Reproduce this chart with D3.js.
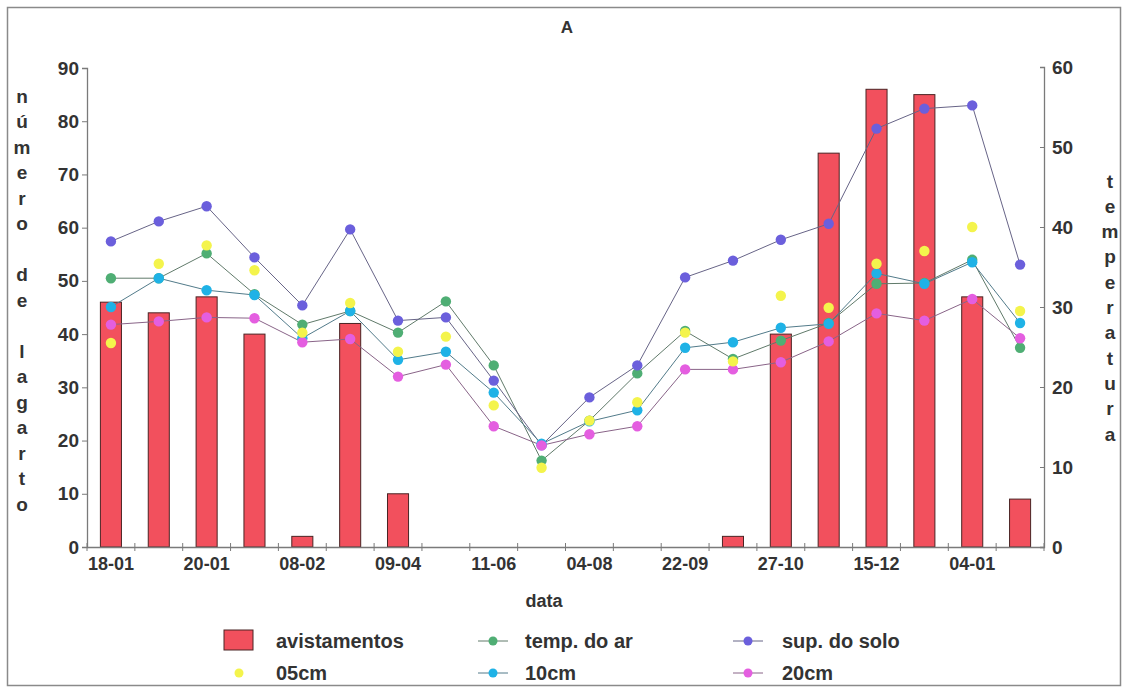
<!DOCTYPE html>
<html>
<head>
<meta charset="utf-8">
<script src="https://cdn.jsdelivr.net/npm/d3@7"></script>
<style>
  body { margin: 0; background: #fff; }
  svg text { font-family: "Liberation Sans", Arial, sans-serif; font-weight: bold; fill: #333; }
</style>
</head>
<body>
<svg id="chart" width="1124" height="689"></svg>
<script>
// x categories (only every other one carries a label)
const tickLabels = ['18-01', '', '20-01', '', '08-02', '', '09-04', '', '11-06', '',
                    '04-08', '', '22-09', '', '27-10', '', '15-12', '', '04-01', ''];

// lizard sightings (left axis)
const avistamentos = [46, 44, 47, 40, 2, 42, 10, 0, 0, 0, 0, 0, 0, 2, 40, 74, 86, 85, 47, 9];

// temperatures (right axis)
const tempAr   = [33.6, 33.6, 36.7, 31.6, 27.8, 29.5, 26.8, 30.7, 22.7, 10.8, 15.8, 21.7, 27.0, 23.5, 25.8, 28.0, 32.9, 33.0, 35.9, 24.9];
const supSolo  = [38.2, 40.7, 42.6, 36.2, 30.2, 39.7, 28.3, 28.7, 20.8, 12.7, 18.7, 22.7, 33.7, 35.8, 38.4, 40.4, 52.3, 54.8, 55.2, 35.3];
const cm05     = [25.5, 35.4, 37.7, 34.6, 26.8, 30.5, 24.4, 26.3, 17.7, 9.9, 15.8, 18.1, 26.8, 23.2, 31.4, 29.9, 35.4, 37.0, 40.0, 29.5];
const cm10     = [30.0, 33.6, 32.1, 31.5, 26.1, 29.5, 23.4, 24.4, 19.3, 12.9, 15.7, 17.1, 24.9, 25.6, 27.4, 27.9, 34.2, 32.9, 35.6, 28.0];
const cm20     = [27.8, 28.2, 28.7, 28.6, 25.6, 26.0, 21.3, 22.8, 15.1, 12.7, 14.1, 15.1, 22.2, 22.2, 23.1, 25.7, 29.2, 28.3, 31.0, 26.1];

const leftTicks = [0, 10, 20, 30, 40, 50, 60, 70, 80, 90];
const rightTicks = [0, 10, 20, 30, 40, 50, 60];

const series = [
  { name: 'temp. do ar', values: tempAr, color: '#4fae74', line: true },
  { name: 'sup. do solo', values: supSolo, color: '#6b5fdc', line: true },
  { name: '10cm', values: cm10, color: '#1fb2e6', line: true },
  { name: '20cm', values: cm20, color: '#e45ee0', line: true },
  { name: '05cm', values: cm05, color: '#f4f44c', line: false }
];

// lines are drawn in a greyed version of the marker colour
const lineColor = c => d3.interpolateRgb(c, '#666')(0.72);

const svg = d3.select('#chart');
const plotL = 87, plotR = 1044, plotT = 67, plotB = 547;

// frame
svg.append('rect')
  .attr('x', 7.5).attr('y', 7.5)
  .attr('width', 1113).attr('height', 678)
  .attr('fill', 'none').attr('stroke', '#8a8a8a').attr('stroke-width', 1.5);

const idx = d3.range(tickLabels.length);
const x = d3.scaleBand().domain(idx).range([plotL, plotR]);
const yL = d3.scaleLinear().domain([0, 90]).range([plotB, plotT + 1]);
const yR = d3.scaleLinear().domain([0, 60]).range([plotB, plotT]);
const cx = i => x(i) + x.bandwidth() / 2;

// bars
const barW = x.bandwidth() * 0.44;
svg.append('g').selectAll('rect')
  .data(avistamentos.map((v, i) => ({ v, i })).filter(d => d.v > 0))
  .enter().append('rect')
  .attr('x', d => cx(d.i) - barW / 2)
  .attr('y', d => yL(d.v))
  .attr('width', barW)
  .attr('height', d => plotB - yL(d.v))
  .attr('fill', '#f2505d')
  .attr('stroke', '#4a2424')
  .attr('stroke-width', 1);

// lines
const lineGen = d3.line().x((d, i) => cx(i)).y(d => yR(d));
series.filter(s => s.line).forEach(s => {
  svg.append('path')
    .datum(s.values)
    .attr('d', lineGen)
    .attr('fill', 'none')
    .attr('stroke', lineColor(s.color))
    .attr('stroke-width', 1);
});

// markers
series.forEach(s => {
  svg.append('g').selectAll('circle')
    .data(s.values)
    .enter().append('circle')
    .attr('cx', (d, i) => cx(i))
    .attr('cy', d => yR(d))
    .attr('r', 5.2)
    .attr('fill', s.color);
});

// left axis
const gL = svg.append('g').attr('transform', `translate(${plotL},0)`)
  .call(d3.axisLeft(yL).tickValues(leftTicks).tickSize(5).tickPadding(3));
// right axis
const gR = svg.append('g').attr('transform', `translate(${plotR},0)`)
  .call(d3.axisRight(yR).tickValues(rightTicks).tickSize(-4).tickPadding(8));
// bottom axis
const gB = svg.append('g').attr('transform', `translate(0,${plotB})`)
  .call(d3.axisBottom(x).tickFormat(i => tickLabels[i]).tickSize(0).tickPadding(10));

[gL, gR, gB].forEach(g => {
  g.select('.domain').attr('stroke', '#7a7a7a').attr('stroke-width', 1.3);
  g.selectAll('.tick line').attr('stroke', '#7a7a7a');
  g.selectAll('text').attr('font-size', 18).attr('fill', '#333');
});
gL.selectAll('text').attr('font-size', 19);
gR.selectAll('text').attr('font-size', 19);

// category boundary ticks on the x axis
gB.append('g').selectAll('line')
  .data(d3.range(tickLabels.length + 1))
  .enter().append('line')
  .attr('x1', i => plotL + i * x.step()).attr('x2', i => plotL + i * x.step())
  .attr('y1', -4).attr('y2', 4)
  .attr('stroke', '#7a7a7a');

// titles
svg.append('text').attr('x', 567).attr('y', 33)
  .attr('text-anchor', 'middle').attr('font-size', 17).text('A');
svg.append('text').attr('x', 544).attr('y', 607)
  .attr('text-anchor', 'middle').attr('font-size', 18).text('data');

function stacked(str, xPos, y0, step) {
  svg.append('g').selectAll('text')
    .data(str.split(''))
    .enter().append('text')
    .attr('x', xPos)
    .attr('y', (d, i) => y0 + i * step)
    .attr('text-anchor', 'middle')
    .attr('dominant-baseline', 'central')
    .attr('font-size', 19)
    .text(d => d);
}
stacked('número de lagarto', 22, 96, 25.5);
stacked('temperatura', 1110, 181, 25.3);

// legend
const leg = svg.append('g');
leg.append('rect').attr('x', 224).attr('y', 630).attr('width', 29).attr('height', 20)
  .attr('fill', '#f2505d').attr('stroke', '#4a2424');
leg.append('text').attr('x', 276).attr('y', 648).attr('font-size', 20).text('avistamentos');

const legItems = [
  { s: series[4], x: 239, y: 673, tx: 276 },
  { s: series[0], x: 493, y: 641, tx: 525 },
  { s: series[2], x: 493, y: 673, tx: 525 },
  { s: series[1], x: 748, y: 641, tx: 782 },
  { s: series[3], x: 748, y: 673, tx: 782 }
];
legItems.forEach(it => {
  if (it.s.line) {
    leg.append('line').attr('x1', it.x - 15).attr('x2', it.x + 15)
      .attr('y1', it.y).attr('y2', it.y)
      .attr('stroke', lineColor(it.s.color)).attr('stroke-width', 1);
  }
  leg.append('circle').attr('cx', it.x).attr('cy', it.y).attr('r', 4.5).attr('fill', it.s.color);
  leg.append('text').attr('x', it.tx).attr('y', it.y + 7).attr('font-size', 20).text(it.s.name);
});
</script>
</body>
</html>
